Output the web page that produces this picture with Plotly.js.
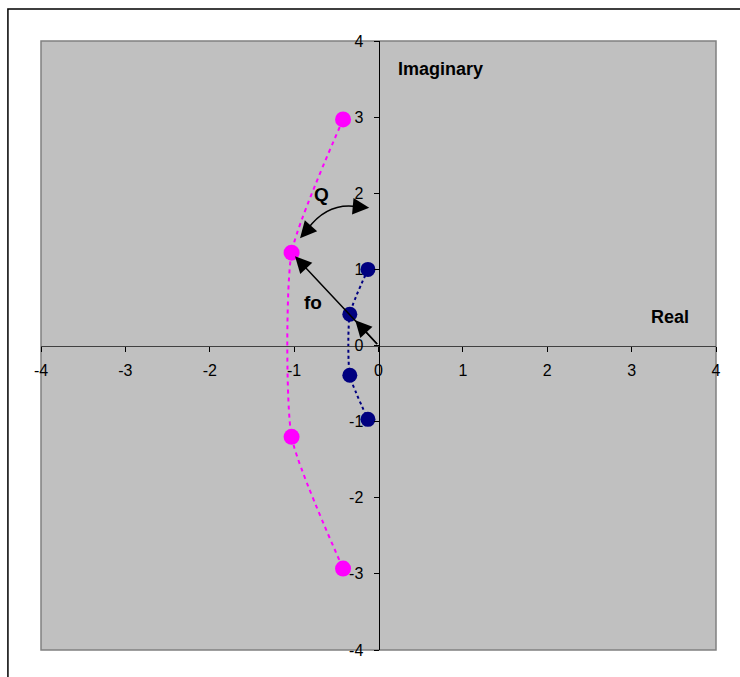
<!DOCTYPE html>
<html><head><meta charset="utf-8">
<script src="https://cdn.plot.ly/plotly-3.0.1.min.js"></script>
<style>html,body{margin:0;padding:0;background:#fff;}#chart{width:740px;height:677px;}</style>
</head><body><div id="chart"></div>
<script>
// Pole locations (real, imaginary)
const highQReal = [-0.42, -1.03, -1.03, -0.42];
const highQImag = [2.97, 1.22, -1.20, -2.93];
const lowQReal  = [-0.125, -0.34, -0.34, -0.125];
const lowQImag  = [1.00, 0.41, -0.39, -0.97];
const tickVals  = [-4, -3, -2, -1, 0, 1, 2, 3, 4];

const font = 'Liberation Sans, Arial, sans-serif';

const traces = [
  {x: highQReal, y: highQImag, mode: 'lines+markers', type: 'scatter',
   line: {color: '#FF00FF', width: 2, dash: '4px,4px', shape: 'spline', smoothing: 0.55},
   marker: {color: '#FF00FF', size: 16}, hoverinfo: 'none'},
  {x: lowQReal, y: lowQImag, mode: 'lines+markers', type: 'scatter',
   line: {color: '#000080', width: 2, dash: '3px,3px', shape: 'spline', smoothing: 0.55},
   marker: {color: '#000080', size: 15}, hoverinfo: 'none'}
];

const axisCommon = {
  range: [-4, 4], tickvals: tickVals, ticktext: tickVals.map(String),
  showgrid: false, zeroline: false, showline: true, linecolor: '#000', linewidth: 1,
  ticks: 'outside', ticklen: 5, tickcolor: '#000', tickwidth: 1,
  anchor: 'free', position: 0.5,
  tickfont: {family: font, size: 16, color: '#000'}, fixedrange: true
};

const arrowStyle = {showarrow: true, arrowhead: 2, arrowsize: 2.2, arrowwidth: 1.5,
  arrowcolor: '#000', axref: 'x', ayref: 'y', text: ''};

const layout = {
  width: 740, height: 677,
  margin: {l: 41, r: 24, t: 41, b: 27},
  paper_bgcolor: '#fff', plot_bgcolor: '#C0C0C0',
  showlegend: false,
  xaxis: Object.assign({}, axisCommon, {ticklabelstandoff: 5, linecolor: '#404040'}),
  yaxis: Object.assign({}, axisCommon, {ticklabelstandoff: 7}),
  shapes: [
    {type: 'rect', xref: 'paper', yref: 'paper', x0: -0.049, x1: 1.06, y0: -0.08, y1: 1.0525,
     line: {color: '#000', width: 1.5}, layer: 'below'},
    {type: 'rect', xref: 'paper', yref: 'paper', x0: 0, x1: 1, y0: 0, y1: 1,
     line: {color: '#808080', width: 1.5}, layer: 'below'},
    {type: 'path', xref: 'x', yref: 'y', path: 'M -0.30 1.83 Q -0.62 1.86 -0.84 1.53',
     line: {color: '#000', width: 1.5}}
  ],
  annotations: [
    {x: 0.74, y: 3.63, xref: 'x', yref: 'y', text: '<b>Imaginary</b>', showarrow: false,
     font: {family: font, size: 18, color: '#000'}},
    {x: 3.45, y: 0.37, xref: 'x', yref: 'y', text: '<b>Real</b>', showarrow: false,
     font: {family: font, size: 18, color: '#000'}},
    {x: -0.67, y: 1.98, xref: 'x', yref: 'y', text: '<b>Q</b>', showarrow: false,
     font: {family: font, size: 19, color: '#000'}},
    {x: -0.78, y: 0.57, xref: 'x', yref: 'y', text: '<b>fo</b>', showarrow: false,
     font: {family: font, size: 19, color: '#000'}},
    Object.assign({}, arrowStyle, {x: highQReal[1], y: highQImag[1], ax: 0, ay: 0, standoff: 5}),
    Object.assign({}, arrowStyle, {x: lowQReal[1], y: lowQImag[1], ax: 0, ay: 0, standoff: 8}),
    Object.assign({}, arrowStyle, {x: -0.11, y: 1.81, ax: -0.31, ay: 1.83}),
    Object.assign({}, arrowStyle, {x: -0.93, y: 1.41, ax: -0.81, ay: 1.56})
  ]
};

Plotly.newPlot('chart', traces, layout, {displayModeBar: false, staticPlot: true});
</script></body></html>
